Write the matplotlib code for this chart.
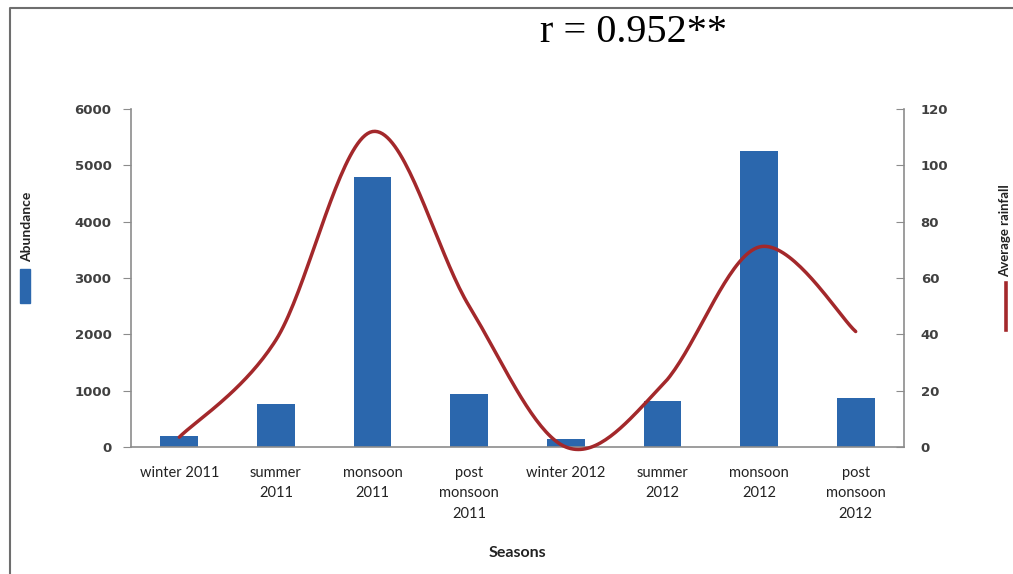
import numpy as np
import matplotlib
matplotlib.use("Agg")
import matplotlib.pyplot as plt
from matplotlib.lines import Line2D
from matplotlib.patches import Rectangle

categories = ["winter 2011", "summer\n2011", "monsoon\n2011", "post\nmonsoon\n2011",
              "winter 2012", "summer\n2012", "monsoon\n2012", "post\nmonsoon\n2012"]
abundance = [200, 770, 4800, 940, 140, 820, 5250, 870]
rainfall = [3.5, 38, 112, 50, 0, 22, 71, 41]
left_ticks = [0, 1000, 2000, 3000, 4000, 5000, 6000]
right_ticks = [0, 20, 40, 60, 80, 100, 120]

W, H = 1013, 574
fig = plt.figure(figsize=(W / 100, H / 100), dpi=100)
fig.patch.set_facecolor("white")
ax = fig.add_axes([131 / W, 1 - 447 / H, (904 - 131) / W, (447 - 109) / H])
x = np.arange(len(categories))

bar_color = "#2B67AD"
line_color = "#A3282B"
tick_color = "#404040"
spine_color = "#8C8C8C"

ax.bar(x, abundance, width=0.39, color=bar_color, zorder=2)
ax.set_xlim(-0.5, len(categories) - 0.5)
ax.set_ylim(0, 6000)
ax.set_yticks(left_ticks)
ax.set_yticklabels([str(t) for t in left_ticks], fontsize=9.5, fontweight="bold",
                   color=tick_color, family="DejaVu Sans")
ax.set_xticks(x)
ax.set_xticklabels(categories, fontsize=10.5, color="#222222", family="Lato",
                   linespacing=1.55)
ax.tick_params(axis="x", length=0, pad=14)
ax.tick_params(axis="y", direction="out", length=6, color=spine_color, pad=8)
for s in ["top", "right"]:
    ax.spines[s].set_visible(False)
for s in ["left", "bottom"]:
    ax.spines[s].set_color(spine_color)
    ax.spines[s].set_linewidth(1.2)

ax2 = ax.twinx()
ax2.set_ylim(0, 120)
ax2.set_yticks(right_ticks)
ax2.set_yticklabels([str(t) for t in right_ticks], fontsize=9.5, fontweight="bold",
                    color=tick_color, family="DejaVu Sans")
ax2.tick_params(axis="y", direction="in", length=6, color=spine_color, pad=12)
for s in ["top", "left", "bottom"]:
    ax2.spines[s].set_visible(False)
ax2.spines["right"].set_color(spine_color)
ax2.spines["right"].set_linewidth(1.2)

# smoothed line (Excel-style Bezier smoothing through the points)
px = np.asarray(x, dtype=float)
py = np.asarray(rainfall, dtype=float)
xs, ys = [], []
n = len(px)
for i in range(n - 1):
    p0 = (px[max(i - 1, 0)], py[max(i - 1, 0)])
    p1 = (px[i], py[i])
    p2 = (px[i + 1], py[i + 1])
    p3 = (px[min(i + 2, n - 1)], py[min(i + 2, n - 1)])
    c1 = (p1[0] + (p2[0] - p0[0]) / 6, p1[1] + (p2[1] - p0[1]) / 6)
    c2 = (p2[0] - (p3[0] - p1[0]) / 6, p2[1] - (p3[1] - p1[1]) / 6)
    t = np.linspace(0, 1, 40)
    bx = (1 - t) ** 3 * p1[0] + 3 * (1 - t) ** 2 * t * c1[0] + 3 * (1 - t) * t ** 2 * c2[0] + t ** 3 * p2[0]
    by = (1 - t) ** 3 * p1[1] + 3 * (1 - t) ** 2 * t * c1[1] + 3 * (1 - t) * t ** 2 * c2[1] + t ** 3 * p2[1]
    xs.extend(bx)
    ys.extend(by)
ax2.plot(xs, ys, color=line_color, lw=2.5, solid_capstyle="round", zorder=3, clip_on=False)

# title
fig.text(633 / W, 1 - 33 / H, "r = 0.952**", ha="center", va="center",
         fontsize=29, family="Liberation Serif", color="black")

# axis titles
fig.text(517 / W, 1 - 553 / H, "Seasons", ha="center", va="center",
         fontsize=11.5, fontweight="bold", family="Lato", color="#222222")
fig.text(27 / W, 1 - 227 / H, "Abundance", ha="center", va="center", rotation=90,
         fontsize=10, fontweight="bold", family="Lato", color="#222222")
fig.text(1005 / W, 1 - 231 / H, "Average rainfall", ha="center", va="center", rotation=90,
         fontsize=9.5, fontweight="bold", family="Lato", color="#222222")

# legend keys
fig.patches.append(Rectangle((20 / W, 1 - 303 / H), 10 / W, 34 / H,
                             transform=fig.transFigure, color=bar_color))
fig.lines.append(Line2D([1006 / W, 1006 / W], [1 - 283 / H, 1 - 330 / H],
                        transform=fig.transFigure, color=line_color, lw=2.6))

# screenshot frame
fig.lines.append(Line2D([10 / W, 10 / W, 1.0], [0, 1 - 8 / H, 1 - 8 / H],
                        transform=fig.transFigure, color="#6E6E6E", lw=1.5))

fig.savefig("out.png", dpi=100, facecolor="white")
